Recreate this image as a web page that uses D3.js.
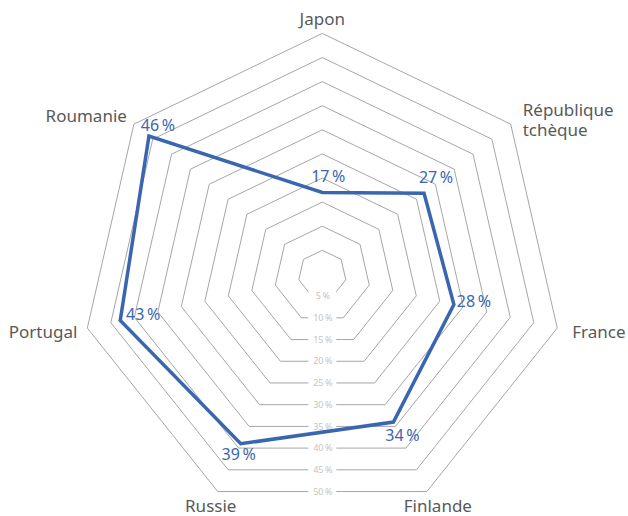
<!DOCTYPE html>
<html>
<head>
<meta charset="utf-8">
<script src="https://cdn.jsdelivr.net/npm/d3@7"></script>
<style>
  body { margin: 0; background: #fff; }
  text { font-family: 'Noto Sans', 'Open Sans', sans-serif; }
</style>
</head>
<body>
<svg id="chart" width="628" height="516"></svg>
<script>
const countries = ['Japon', 'République tchèque', 'France', 'Finlande', 'Russie', 'Portugal', 'Roumanie']
const shares = [17, 27, 28, 34, 39, 43, 46]
const ringTicks = [5, 10, 15, 20, 25, 30, 35, 40, 45, 50]

const cx = 322.3
const cy = 274.4
const outerR = 241

const svg = d3.select('#chart')

const rScale = d3.scaleLinear()
  .domain([0, 50])
  .range([0, outerR])

const angleScale = d3.scaleLinear()
  .domain([0, countries.length])
  .range([0, 2 * Math.PI])

const point = (i, v) => {
  const a = angleScale(i)
  return [cx + rScale(v) * Math.sin(a), cy - rScale(v) * Math.cos(a)]
}

const ringLine = d3.line().curve(d3.curveLinearClosed)

// grid rings
svg.append('g')
  .selectAll('path')
  .data(ringTicks)
  .join('path')
  .attr('d', t => ringLine(countries.map((c, i) => point(i, t))))
  .attr('fill', 'none')
  .attr('stroke', '#a6a6a6')
  .attr('stroke-width', 1)

// tick labels on the bottom edge, line broken behind them
const edgeFactor = Math.cos(Math.PI / countries.length)
const tickG = svg.append('g')
ringTicks.forEach(t => {
  const y = cy + rScale(t) * edgeFactor
  tickG.append('rect')
    .attr('x', cx - 14)
    .attr('y', y - 5)
    .attr('width', 28)
    .attr('height', 10)
    .attr('fill', '#fff')
  tickG.append('text')
    .attr('x', cx + 0.5)
    .attr('y', y)
    .attr('dy', '0.35em')
    .attr('text-anchor', 'middle')
    .style('font-size', '9px')
    .style('fill', '#c4c4c4')
    .text(`${t}\u202f%`)
})

// series line
svg.append('path')
  .attr('d', ringLine(shares.map((v, i) => point(i, v))))
  .attr('fill', 'none')
  .attr('stroke', '#3a66b0')
  .attr('stroke-width', 3.5)
  .attr('stroke-linejoin', 'miter')

// value labels, offset per spoke
const valueOffsets = [[6, -16], [12, -16], [20, -3], [9, 13], [-2, 11], [23, -6], [9, -11]]
svg.append('g')
  .selectAll('text')
  .data(shares)
  .join('text')
  .attr('x', (v, i) => point(i, v)[0] + valueOffsets[i][0])
  .attr('y', (v, i) => point(i, v)[1] + valueOffsets[i][1])
  .attr('dy', '0.35em')
  .attr('text-anchor', 'middle')
  .style('font-size', '16px')
  .style('fill', '#3a66b0')
  .text(v => `${v}\u202f%`)

// category labels
const labelPlace = [
  { dx: 0, dy: -14, anchor: 'middle' },
  { dx: 12, dy: -4, anchor: 'start' },
  { dx: 15, dy: 4, anchor: 'start' },
  { dx: 11, dy: 15, anchor: 'middle' },
  { dx: -7, dy: 15, anchor: 'middle' },
  { dx: -10, dy: 4, anchor: 'end' },
  { dx: -7, dy: -8, anchor: 'end' }
]
const catG = svg.append('g')
countries.forEach((c, i) => {
  const p = point(i, 50)
  const place = labelPlace[i]
  const words = c === 'République tchèque' ? ['République', 'tchèque'] : [c]
  const txt = catG.append('text')
    .attr('x', p[0] + place.dx)
    .attr('y', p[1] + place.dy)
    .attr('text-anchor', place.anchor)
    .style('font-size', '17px')
    .style('fill', '#595959')
  words.forEach((w, k) => {
    txt.append('tspan')
      .attr('x', p[0] + place.dx)
      .attr('dy', k === 0 ? (0.35 - (words.length - 1) * 0.6) + 'em' : '1.2em')
      .text(w)
  })
})
</script>
</body>
</html>
